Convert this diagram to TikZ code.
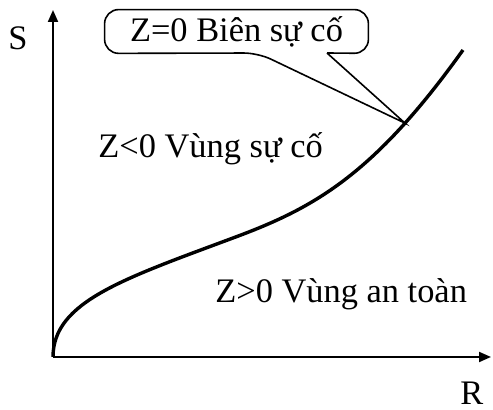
\documentclass[tikz,border=0pt]{standalone}
\usepackage{fontspec}
\setmainfont{Liberation Serif}
\usetikzlibrary{arrows.meta,positioning}

\begin{document}
\begin{tikzpicture}[
      x=0.5pt, y=0.5pt,
      axis/.style={-{Triangle[length=6pt, width=5pt]}, line width=1pt},
      curve/.style={line width=1.7pt},
      label/.style={font=\fontsize{17.2}{21}\selectfont, inner sep=0pt},
      callout/.style={line width=0.8pt, rounded corners=7pt}
  ]
      \useasboundingbox (0,0) rectangle (493,410);
      \coordinate (o) at (53,53);
      \coordinate (ytop) at (53,400);
      \coordinate (xend) at (491,53);

      \draw[axis] (o) -- (ytop);
      \draw[axis] (o) -- (xend);

      \node[label, anchor=base west] (s) at (8,360) {S};
      \node[label, anchor=base west] (r) at (460,5) {R};

      % limit state curve Z=0
      \coordinate (mid) at (233,172);
      \coordinate (end) at (463,360);
      \draw[curve] (o) .. controls (53,108) and (123,131) .. (mid)
          .. controls (313,201.6) and (373,234) .. (end) coordinate[pos=0.77] (tip);

      \node[label, minimum width=131.5pt, minimum height=21.5pt] (box) at (236.5,378.5) {Z=0 Biên sự cố};
      \coordinate (pl) at (258,357);
      \coordinate (pr) at (327,357);
      \draw[callout] (pr) -- (box.south east) -- (box.north east) -- (box.north west)
          -- (box.south west) -- (pl) [sharp corners] -- (tip) -- (pr);

      \node[label, anchor=base west] (fail) at (98,252) {Z<0 Vùng sự cố};
      \node[label, anchor=base west] (safe) at (215,107) {Z>0 Vùng an toàn};
  \end{tikzpicture}
\end{document}
